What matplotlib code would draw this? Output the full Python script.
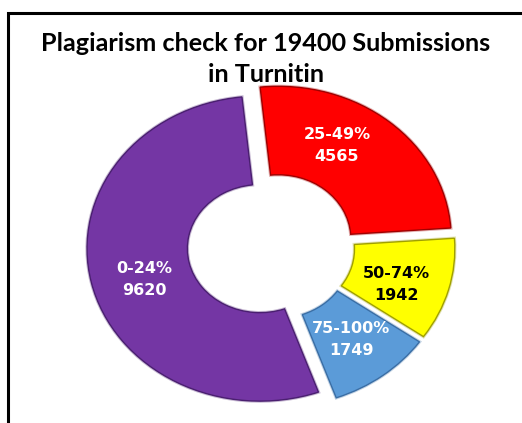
import numpy as np
import matplotlib
matplotlib.use("Agg")
import matplotlib.pyplot as plt
from matplotlib.patches import Rectangle
import matplotlib.patheffects as pe

# ---- data ----
title = "Plagiarism check for 19400 Submissions\nin Turnitin"
categories = ["25-49%", "50-74%", "75-100%", "0-24%"]
values = [4565, 1942, 1749, 9620]
colors = ["#FF0000", "#FFFF00", "#5B9BD8", "#7436A4"]
edge_colors = ["#A00000", "#A0A000", "#3A6EA5", "#4A1F70"]
label_colors = ["white", "black", "white", "white"]
label_angle_shift = [11, -4, 0, 4]

W, H = 522, 423
fig = plt.figure(figsize=(W / 100, H / 100), dpi=100)

# frame border (extends past right/bottom edge like the reference crop)
fig.patches.append(Rectangle((8 / W, -0.05), 1.2, (H - 13) / H + 0.05,
                             transform=fig.transFigure, fill=False,
                             edgecolor="black", linewidth=2.2))

# axes geometry: 1 data unit = 173 px horizontally, 152.5 px vertically
cx, cy = 271, H - 246.4
rx, ry = 173, 152.5
xl, yl = (-1.3, 1.3), (-1.15, 1.3)
ax = fig.add_axes([(cx + xl[0] * rx) / W, (cy + yl[0] * ry) / H,
                   (xl[1] - xl[0]) * rx / W, (yl[1] - yl[0]) * ry / H])

explode = [0.065] * len(values)
wedges, _ = ax.pie(values, colors=colors, startangle=96, counterclock=False,
                   explode=explode, radius=1.0,
                   wedgeprops=dict(width=0.58, edgecolor="none"))
# bevel-like edges
for w, ec in zip(wedges, edge_colors):
    w.set_edgecolor(ec)
    w.set_linewidth(1.0)
    w.set_path_effects([pe.Stroke(linewidth=2.4, foreground=ec, alpha=0.3),
                        pe.Normal()])

ax.set_aspect("auto")
ax.set_xlim(*xl)
ax.set_ylim(*yl)
ax.axis("off")

# data labels
for w, cat, val, lc, sh in zip(wedges, categories, values, label_colors,
                               label_angle_shift):
    mid = np.deg2rad((w.theta1 + w.theta2) / 2 + sh)
    c = w.center
    r = 0.70
    x = c[0] + r * np.cos(mid)
    y = c[1] + r * np.sin(mid)
    ax.text(x, y, f"{cat}\n{val}", ha="center", va="center", color=lc,
            fontsize=11.5, fontweight="bold", family="DejaVu Sans",
            linespacing=1.6)

fig.text(266 / W, 1 - 59 / H, title, ha="center", va="center",
         fontsize=18.2, fontweight="bold", family="Lato", linespacing=1.45,
         color="black")

fig.savefig("out.png", dpi=100)
